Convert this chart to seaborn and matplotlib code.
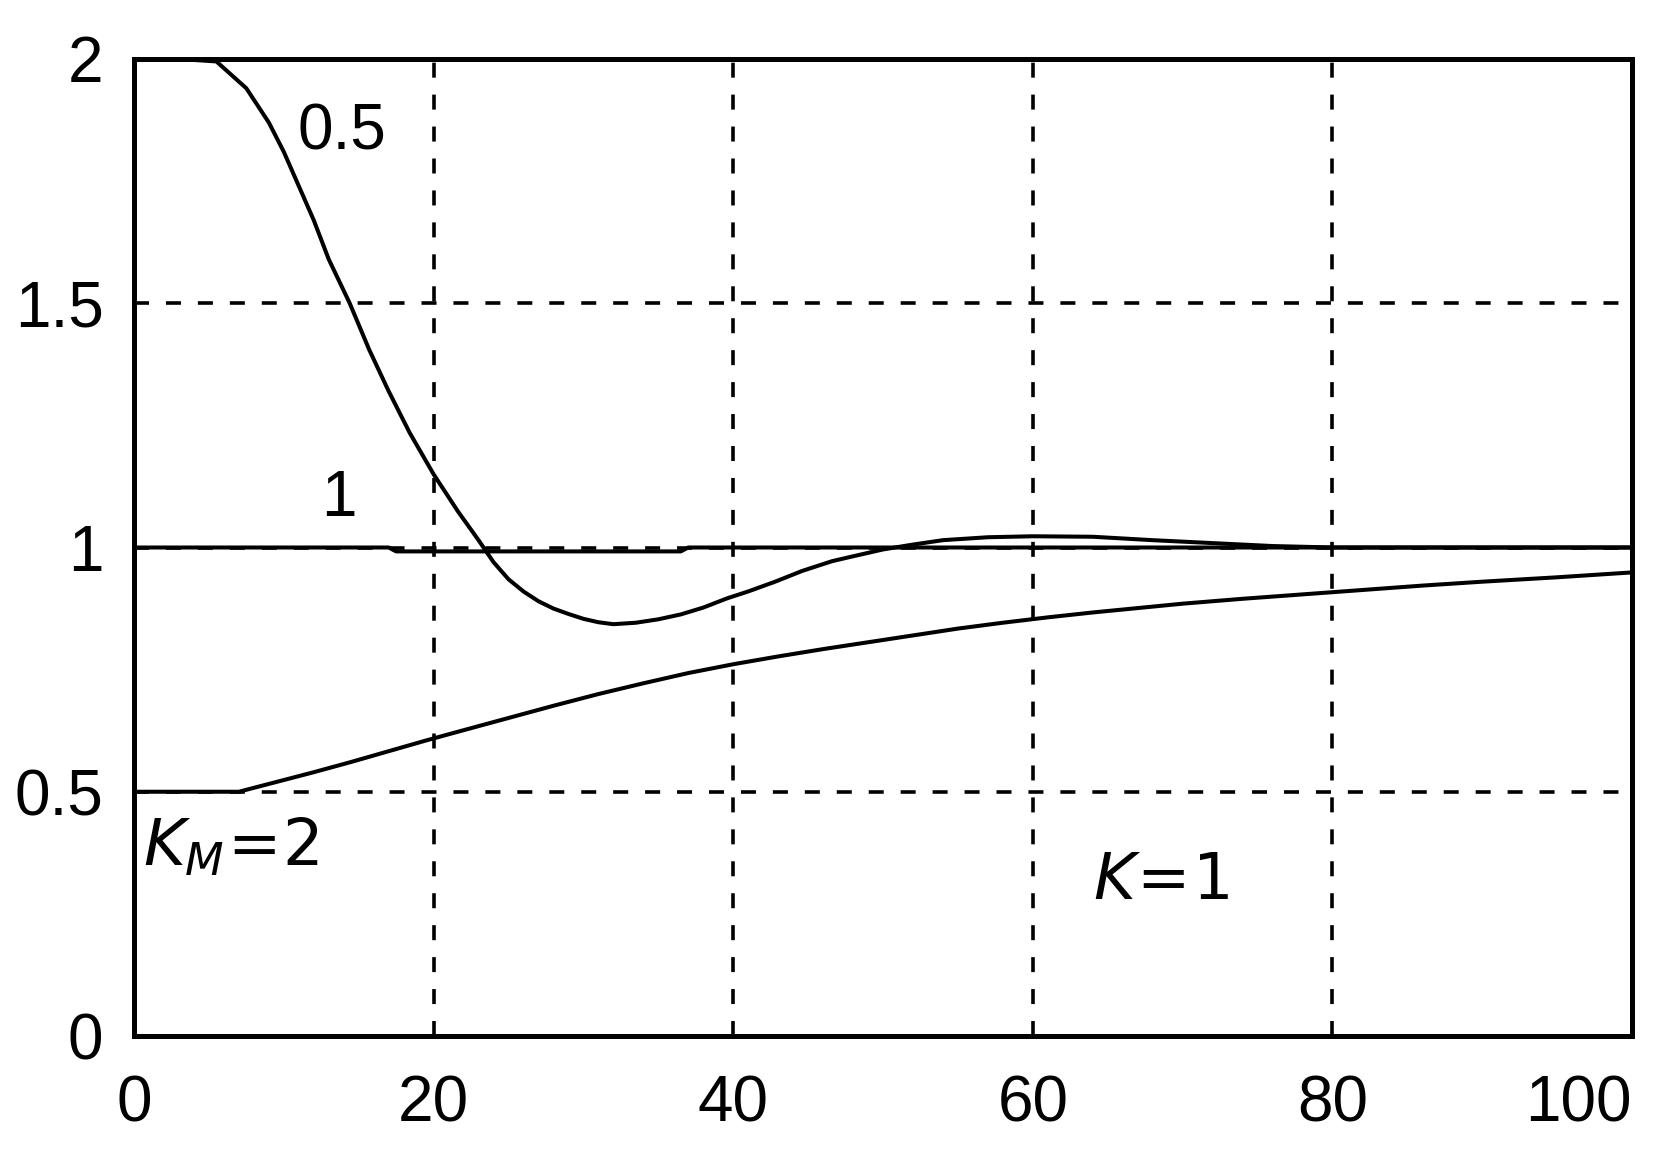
import numpy as np
import pandas as pd
import matplotlib
matplotlib.use("Agg")
import matplotlib.pyplot as plt
import seaborn as sns

# ---- data ----
x_km05 = [0, 3, 5.5, 7.5, 9, 10, 11, 12, 13, 14.4, 15.7, 17, 18.4, 20, 21.6, 23, 24, 25,
          26, 27, 28, 29, 30, 31, 32, 33.5, 35, 36.5, 38, 39.6, 41, 42.8, 44.6, 46.6, 48,
          50, 52, 54, 57, 60, 64, 68, 72, 76, 80, 90, 100]
y_km05 = [2.0, 2.0, 1.995, 1.94, 1.87, 1.81, 1.74, 1.67, 1.59, 1.50, 1.405, 1.32, 1.235,
          1.15, 1.075, 1.015, 0.97, 0.935, 0.91, 0.89, 0.875, 0.864, 0.854, 0.847, 0.843,
          0.846, 0.853, 0.863, 0.877, 0.896, 0.91, 0.93, 0.952, 0.972, 0.982, 0.996, 1.006,
          1.015, 1.021, 1.023, 1.022, 1.015, 1.009, 1.003, 1.0, 1.0, 1.0]

x_km1 = [0, 17, 17.5, 36.5, 37, 100]
y_km1 = [1.0, 1.0, 0.992, 0.992, 1.0, 1.0]

x_km2 = [0, 7, 9.5, 12, 14.5, 17, 19.5, 22, 25, 28, 31, 34, 37, 40, 43, 46, 49, 52, 55,
         58, 61, 64, 67, 70, 74, 78, 82, 86, 90, 95, 100]
y_km2 = [0.5, 0.5, 0.52, 0.54, 0.561, 0.583, 0.605, 0.626, 0.651, 0.676, 0.70, 0.722,
         0.743, 0.761, 0.777, 0.792, 0.806, 0.82, 0.834, 0.846, 0.857, 0.867, 0.876,
         0.885, 0.895, 0.904, 0.913, 0.922, 0.93, 0.939, 0.949]

x_ticks = [0, 20, 40, 60, 80, 100]
x_tick_labels = ["0", "20", "40", "60", "80", "100"]
y_ticks = [0, 0.5, 1, 1.5, 2]
y_tick_labels = ["0", "0.5", "1", "1.5", "2"]

df = pd.concat([
    pd.DataFrame({"t": x_km05, "y": y_km05, "series": "0.5"}),
    pd.DataFrame({"t": x_km1, "y": y_km1, "series": "1"}),
    pd.DataFrame({"t": x_km2, "y": y_km2, "series": "2"}),
], ignore_index=True)

sns.set_theme(style="white")
plt.rcParams["font.family"] = ["Liberation Sans Narrow", "Liberation Sans", "DejaVu Sans"]
plt.rcParams["lines.scale_dashes"] = False
plt.rcParams["mathtext.fontset"] = "dejavusans"

fig = plt.figure(figsize=(16.64, 11.58), dpi=100)
ax = fig.add_axes([134 / 1664, 1 - 1036 / 1158, (1632 - 134) / 1664, (1036 - 59) / 1158])

sns.lineplot(data=df, x="t", y="y", hue="series", units="series", estimator=None,
             palette={"0.5": "black", "1": "black", "2": "black"}, legend=False,
             linewidth=2.9, sort=False, ax=ax, zorder=3)

ax.set_xlim(0, 100)
ax.set_ylim(0, 2)
ax.set_xticks(x_ticks)
ax.set_xticklabels(x_tick_labels)
ax.set_yticks(y_ticks)
ax.set_yticklabels(y_tick_labels)
ax.set_xlabel("")
ax.set_ylabel("")

ax.grid(True, color="black", linewidth=2.6, linestyle=(0, (10.8, 12.2)), zorder=1)
ax.set_axisbelow(True)

for s in ax.spines.values():
    s.set_visible(True)
    s.set_color("black")
    s.set_linewidth(3.6)
    s.set_zorder(5)

ax.tick_params(axis="both", length=0, labelsize=46, colors="black")
ax.tick_params(axis="x", pad=28)
ax.tick_params(axis="y", pad=22)
labs = ax.get_xticklabels()
labs[-1].set_ha("right")

txt_kw = dict(fontsize=46, color="black")
ax.text(13.9, 1.85, "0.5", ha="center", va="center", **txt_kw)
ax.text(13.7, 1.10, "1", ha="center", va="center", **txt_kw)
ax.text(0.6, 0.35, r"$K_M\!=\!2$", ha="left", va="baseline", **txt_kw)
ax.text(64.0, 0.28, r"$K\!=\!1$", ha="left", va="baseline", **txt_kw)

fig.savefig("out.png", dpi=100)
